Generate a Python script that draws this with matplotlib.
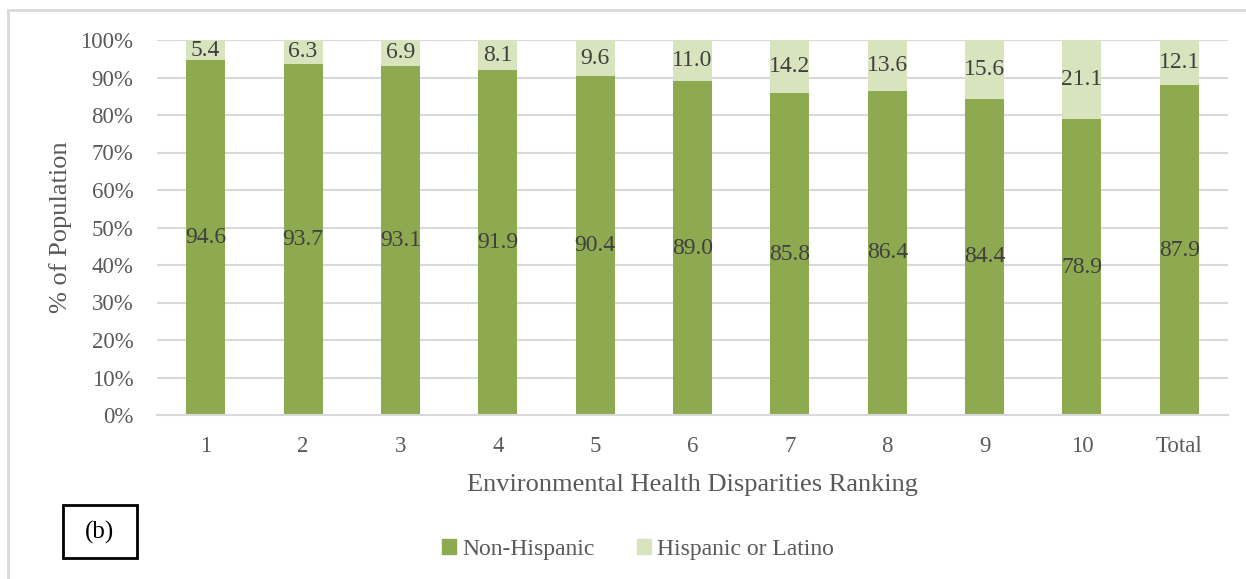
import matplotlib.pyplot as plt
from matplotlib.patches import Patch, Rectangle

categories = ['1', '2', '3', '4', '5', '6', '7', '8', '9', '10', 'Total']
non_hispanic = [94.6, 93.7, 93.1, 91.9, 90.4, 89.0, 85.8, 86.4, 84.4, 78.9, 87.9]
hispanic = [5.4, 6.3, 6.9, 8.1, 9.6, 11.0, 14.2, 13.6, 15.6, 21.1, 12.1]

dark_green = '#8eaa50'
light_green = '#d8e4bd'
text_grey = '#595959'

plt.rcParams['font.family'] = ['Liberation Serif', 'DejaVu Serif']

fig = plt.figure(figsize=(12.46, 5.79), dpi=100)
ax = fig.add_axes([157 / 1246, 1 - 415 / 579, (1228 - 157) / 1246, (415 - 40) / 579])

x = list(range(len(categories)))
bars1 = ax.bar(x, non_hispanic, width=0.4, color=dark_green, label='Non-Hispanic', zorder=2)
bars2 = ax.bar(x, hispanic, width=0.4, bottom=non_hispanic, color=light_green,
               label='Hispanic or Latino', zorder=2)

ax.bar_label(bars1, labels=[f'{v:.1f}' for v in non_hispanic], label_type='center',
             fontsize=17, color='#404040')
ax.bar_label(bars2, labels=[f'{v:.1f}' for v in hispanic], label_type='center',
             fontsize=17, color='#404040')

ax.set_xlim(-0.5, len(categories) - 0.5)
ax.set_ylim(0, 100)
ax.set_yticks(range(0, 101, 10))
ax.set_yticklabels([f'{v}%' for v in range(0, 101, 10)])
ax.set_xticks(x)
ax.set_xticklabels(categories)
ax.tick_params(length=0, labelsize=16.5, labelcolor=text_grey)
ax.tick_params(axis='y', pad=17)
ax.tick_params(axis='x', pad=15)

ax.grid(axis='y', color='#d9d9d9', linewidth=1.5, zorder=0)
for side in ['top', 'right', 'left']:
    ax.spines[side].set_visible(False)
ax.spines['bottom'].set_color('#d9d9d9')
ax.spines['bottom'].set_linewidth(1.5)
ax.spines['bottom'].set_zorder(3)

ax.set_xlabel('Environmental Health Disparities Ranking', fontsize=19, color=text_grey, labelpad=12)
ax.set_ylabel('% of Population', fontsize=19, color=text_grey, labelpad=6)

handles = [Patch(color=dark_green, label='Non-Hispanic'),
           Patch(color=light_green, label='Hispanic or Latino')]
fig.legend(handles=handles, loc='center', bbox_to_anchor=(638 / 1246, 1 - 549 / 579), ncol=2,
           frameon=False, fontsize=17, labelcolor=text_grey, handlelength=0.6, handleheight=0.6,
           handletextpad=0.25, columnspacing=1.8)

# outer chart border (only left and top visible)
fig.add_artist(Rectangle((8 / 1246, -0.05), 1.1, 1 - 10 / 579 + 0.05, transform=fig.transFigure,
                         fill=False, edgecolor='#d9d9d9', linewidth=2))

# panel label box
fig.add_artist(Rectangle((63 / 1246, 1 - 558 / 579), 74 / 1246, 53 / 579, transform=fig.transFigure,
                         fill=False, edgecolor='black', linewidth=2))
fig.text(100 / 1246, 1 - 532 / 579, '(b)', fontsize=18, color='black', ha='center', va='center')

fig.savefig('out.png', dpi=100)
